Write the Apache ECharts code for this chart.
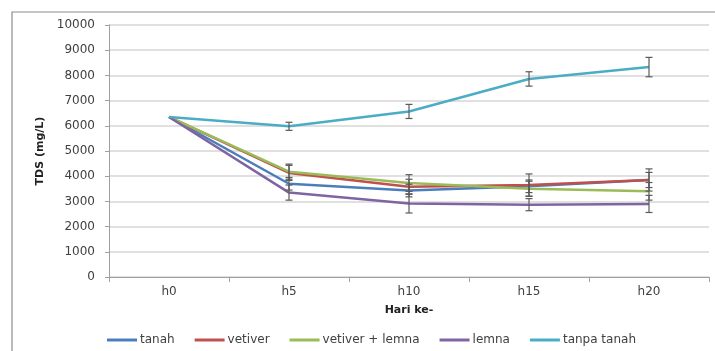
<!DOCTYPE html>
<html>
<head>
<meta charset="utf-8">
<script src="https://cdn.jsdelivr.net/npm/echarts@6/dist/echarts.min.js"></script>
<style>html,body{margin:0;padding:0;background:#fff;}#c{width:715px;height:351px;}</style>
</head>
<body>
<div id="c"></div>
<script>
var categories = ['h0', 'h5', 'h10', 'h15', 'h20'];
var yTicks = [0, 1000, 2000, 3000, 4000, 5000, 6000, 7000, 8000, 9000, 10000];

var tanah = [6350, 3700, 3430, 3600, 3850];
var tanahErr = [0, 250, 250, 250, 300];
var vetiver = [6350, 4130, 3580, 3650, 3850];
var vetiverErr = [0, 300, 300, 440, 440];
var vetiverLemna = [6350, 4180, 3730, 3500, 3400];
var vetiverLemnaErr = [0, 300, 330, 300, 350];
var lemna = [6350, 3350, 2920, 2870, 2900];
var lemnaErr = [0, 300, 380, 240, 340];
var tanpaTanah = [6350, 5980, 6570, 7860, 8330];
var tanpaTanahErr = [0, 160, 280, 285, 385];

var names = ['tanah', 'vetiver', 'vetiver + lemna', 'lemna', 'tanpa tanah'];
var colors = ['#4A7EBB', '#C0504D', '#9BBB59', '#8064A2', '#4BACC6'];
var values = [tanah, vetiver, vetiverLemna, lemna, tanpaTanah];
var errors = [tanahErr, vetiverErr, vetiverLemnaErr, lemnaErr, tanpaTanahErr];

var FONT = "'DejaVu Sans'";
var chart = echarts.init(document.getElementById('c'), null, {renderer: 'canvas'});

var series = [];
names.forEach(function (n, i) {
  series.push({
    name: n, type: 'line', data: values[i], showSymbol: false, symbol: 'none',
    lineStyle: {color: colors[i], width: 2.5}, itemStyle: {color: colors[i]},
    z: 2 + i, animation: false
  });
});
names.forEach(function (n, i) {
  var d = values[i].map(function (v, k) { return [k, v, errors[i][k]]; });
  series.push({
    name: n + ' err', type: 'custom', z: 10, animation: false, silent: true,
    data: d,
    renderItem: function (params, api) {
      var e = api.value(2);
      if (!e) return null;
      var x = api.value(0), v = api.value(1);
      var top = api.coord([x, v + e]);
      var bot = api.coord([x, v - e]);
      var w = 3.5;
      var st = {stroke: '#5a5a5a', lineWidth: 1.2};
      return {type: 'group', children: [
        {type: 'line', shape: {x1: top[0], y1: top[1], x2: bot[0], y2: bot[1]}, style: st},
        {type: 'line', shape: {x1: top[0] - w, y1: top[1], x2: top[0] + w, y2: top[1]}, style: st},
        {type: 'line', shape: {x1: bot[0] - w, y1: bot[1], x2: bot[0] + w, y2: bot[1]}, style: st}
      ]};
    }
  });
});

chart.setOption({
  backgroundColor: '#fff',
  animation: false,
  graphic: [{
    type: 'rect', shape: {x: 12, y: 12, width: 720, height: 360},
    style: {fill: 'none', stroke: '#8c8c8c', lineWidth: 1.2}, z: -1
  }],
  grid: {left: 109, right: 6, top: 25, bottom: 74, containLabel: false},
  legend: {
    data: names, left: 107, top: 334, padding: 0, icon: 'rect', itemWidth: 30, itemHeight: 3,
    itemGap: 20, textStyle: {fontFamily: FONT, fontSize: 12, color: '#404040', padding: [0, 0, 0, -2]}
  },
  xAxis: {
    type: 'category', data: categories, boundaryGap: true,
    name: 'Hari ke-', nameLocation: 'middle', nameGap: 28,
    nameTextStyle: {fontFamily: FONT, fontSize: 11, fontWeight: 'bold', color: '#222'},
    axisLine: {lineStyle: {color: '#a0a0a0', width: 1}},
    axisTick: {show: true, alignWithLabel: false, length: 5, lineStyle: {color: '#a0a0a0'}},
    axisLabel: {fontFamily: FONT, fontSize: 12, color: '#404040', margin: 9}
  },
  yAxis: {
    type: 'value', min: yTicks[0], max: yTicks[yTicks.length - 1], interval: 1000,
    name: 'TDS (mg/L)', nameLocation: 'middle', nameGap: 63, nameRotate: 90,
    nameTextStyle: {fontFamily: FONT, fontSize: 11, fontWeight: 'bold', color: '#222'},
    axisLine: {show: true, lineStyle: {color: '#a0a0a0', width: 1}},
    axisTick: {show: true, length: 4, lineStyle: {color: '#a0a0a0'}},
    axisLabel: {fontFamily: FONT, fontSize: 12, color: '#404040', margin: 14,
      formatter: function (v) { return String(v); }},
    splitLine: {lineStyle: {color: '#d6d6d6', width: 1.5}}
  },
  series: series
});
</script>
</body>
</html>
